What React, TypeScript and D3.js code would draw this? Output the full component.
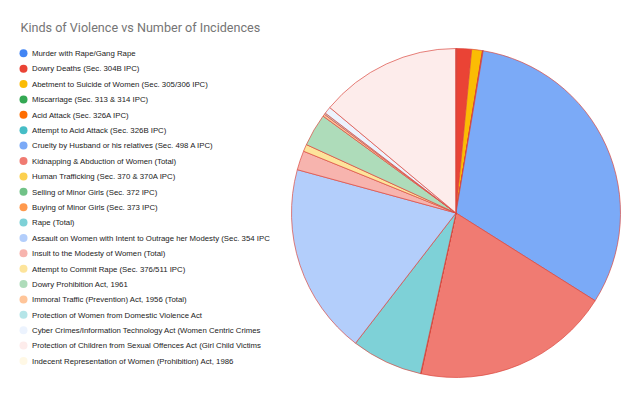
import React from "react";
import * as d3 from "d3";

const categories = [
  "Murder with Rape/Gang Rape",
  "Dowry Deaths (Sec. 304B IPC)",
  "Abetment to Suicide of Women (Sec. 305/306 IPC)",
  "Miscarriage (Sec. 313 & 314 IPC)",
  "Acid Attack (Sec. 326A IPC)",
  "Attempt to Acid Attack (Sec. 326B IPC)",
  "Cruelty by Husband or his relatives (Sec. 498 A IPC)",
  "Kidnapping & Abduction of Women (Total)",
  "Human Trafficking (Sec. 370 & 370A IPC)",
  "Selling of Minor Girls (Sec. 372 IPC)",
  "Buying of Minor Girls (Sec. 373 IPC)",
  "Rape (Total)",
  "Assault on Women with Intent to Outrage her Modesty (Sec. 354 IPC",
  "Insult to the Modesty of Women (Total)",
  "Attempt to Commit Rape (Sec. 376/511 IPC)",
  "Dowry Prohibition Act, 1961",
  "Immoral Traffic (Prevention) Act, 1956 (Total)",
  "Protection of Women from Domestic Violence Act",
  "Cyber Crimes/Information Technology Act (Women Centric Crimes",
  "Protection of Children from Sexual Offences Act (Girl Child Victims",
  "Indecent Representation of Women (Prohibition) Act, 1986",
];

const incidences = [
  300, 5800, 4200, 110, 110, 55, 125200, 77800, 110, 55, 20, 28000, 75100,
  7550, 2780, 12800, 890, 555, 2780, 55600, 55,
];

const colors = [
  "#4285f4", "#ea4335", "#fbbc04", "#34a853", "#ff6d01", "#46bdc6",
  "#7baaf7", "#f07b72", "#fcd04f", "#71c287", "#ff994d", "#7ed1d7",
  "#b3cefb", "#f7b4ae", "#fde49b", "#aedcba", "#ffc599", "#b5e5e8",
  "#ecf3fe", "#fdeceb", "#fff8e5",
];

const title = "Kinds of Violence vs Number of Incidences";

const W = 641;
const H = 398;
const cx = 456;
const cy = 213;
const radius = 164.5;

export default function App() {
  const pie = d3
    .pie<number>()
    .sort(null)
    .value((d) => d)
    .startAngle(0)
    .endAngle(2 * Math.PI);
  const arcs = pie(incidences);
  const arc = d3.arc<d3.PieArcDatum<number>>().innerRadius(0).outerRadius(radius);

  const legendY = d3
    .scalePoint<number>()
    .domain(d3.range(categories.length))
    .range([53.3, 361]);

  return (
    <svg
      width={W}
      height={H}
      style={{ position: "absolute", left: 0, top: 0, background: "#fff" }}
    >
      <text
        x={20.5}
        y={32}
        fontFamily="Roboto, Arial, sans-serif"
        fontSize={12.6}
        fill="#757575"
      >
        {title}
      </text>

      <g transform={`translate(${cx},${cy})`}>
        {arcs.map((a, i) => (
          <path
            key={i}
            d={arc(a) || ""}
            fill={colors[i]}
            stroke="#d9453b"
            strokeOpacity={0.75}
            strokeWidth={0.9}
            strokeLinejoin="round"
          />
        ))}
      </g>

      <g fontFamily="Arial, 'Liberation Sans', sans-serif" fontSize={7.8} fill="#222">
        {categories.map((c, i) => (
          <g key={c} transform={`translate(0,${legendY(i)})`}>
            <circle cx={23.5} cy={0} r={4} fill={colors[i]} />
            <text x={32} y={2.8}>
              {c}
            </text>
          </g>
        ))}
      </g>
    </svg>
  );
}
